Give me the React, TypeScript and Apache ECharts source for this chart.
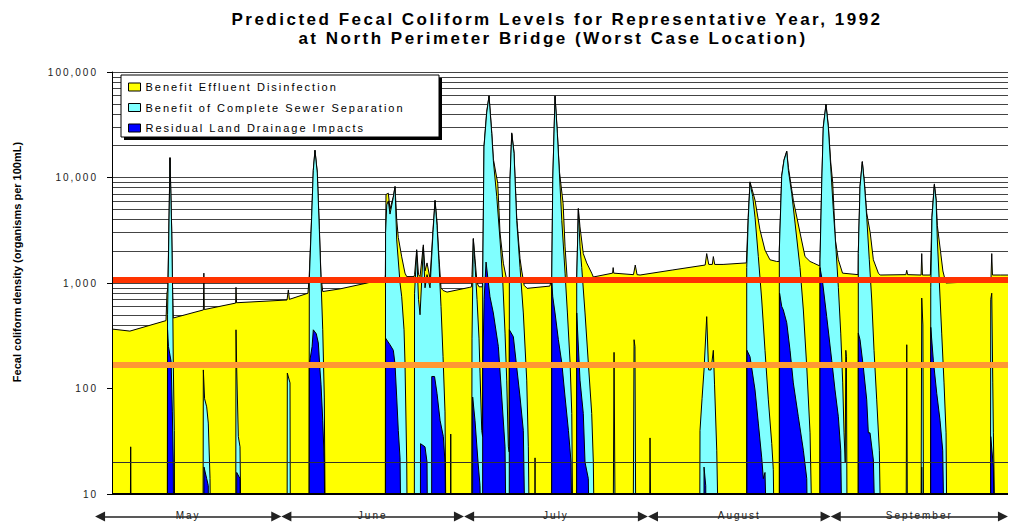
import React, { useEffect, useRef } from 'react';
import * as echarts from 'echarts';

// ---------- data ----------
const seriesNames = [
  'Benefit Effluent Disinfection',
  'Benefit of Complete Sewer Separation',
  'Residual Land Drainage Impacts',
];
const seriesColors = ['#FFFF00', '#80FFFF', '#0000FF'];

const titleLines = [
  'Predicted Fecal Coliform Levels for Representative Year, 1992',
  'at North Perimeter Bridge (Worst Case Location)',
];
const yAxisName = 'Fecal coliform density (organisms per 100mL)';

// months shown below the chart (x in days from the start of the record, May 4 = 0)
const monthNames = ['May', 'June', 'July', 'August', 'September'];
const monthEdges = [-2.9, 28.3, 58.9, 89.7, 120.3, 150];

// criterion lines (organisms per 100 mL)
const redCriterion = 1080;
const orangeCriterion = 169;

// minor log grid values
const minorGrid: number[] = [];
[10, 100, 1000, 10000].forEach((d) => {
  for (let k = 2; k <= 9; k++) minorGrid.push(k * d);
});

// [day, density] — upper envelope (total)
const yellowTotal: [number, number][] = [
  [0, 366], [3.0, 350], [9.04, 440], [9.2, 800], [9.35, 900], [9.5, 2800], [9.71, 15500], [9.85, 7200],
  [9.99, 3300], [10.16, 760], [10.26, 466], [15.3, 556], [15.38, 1240], [15.45, 560], [20.7, 645],
  [20.76, 910], [20.85, 650], [29.3, 690], [29.52, 860], [29.7, 700], [32.8, 800], [33.0, 1100],
  [33.43, 4400], [33.7, 11800], [33.98, 18200], [34.37, 11200], [34.71, 3400], [34.99, 1150], [35.28, 830],
  [38.2, 880], [42.7, 1000], [45.7, 1100], [45.76, 1200], [45.87, 6900], [46.26, 7100], [46.54, 5000],
  [47.1, 6600], [47.38, 8200], [47.66, 4000], [47.93, 2700], [48.5, 1770], [49.05, 1240], [49.34, 1150],
  [50.56, 1150], [50.65, 1200], [51.01, 2070], [51.31, 1200], [51.57, 1150], [52.12, 2300], [52.4, 1300],
  [52.74, 1550], [53.24, 1100], [53.74, 3200], [54.08, 6100], [54.41, 3800], [54.75, 1700], [55.08, 900],
  [55.42, 850], [56.09, 820], [59.9, 910], [60.19, 920], [60.27, 1200], [60.49, 2650], [60.77, 1700],
  [61.11, 1000], [61.44, 920], [62.0, 920], [62.06, 1100], [62.28, 20000], [62.73, 42000], [63.12, 59500],
  [63.57, 27000], [63.84, 15000], [64.58, 8800], [64.96, 3000], [65.52, 1540], [66.08, 1070], [66.5, 1070],
  [66.52, 1100], [66.63, 9600], [66.92, 26500], [67.3, 17500], [67.75, 4200], [68.31, 1700], [68.6, 1300],
  [69.0, 950], [69.5, 890], [73.3, 935], [73.62, 1100], [73.79, 9600], [74.17, 59500], [74.56, 26500],
  [74.9, 11500], [75.52, 5700], [75.85, 2200], [76.2, 1100], [76.5, 1050], [77.78, 1070], [77.8, 1100],
  [78.07, 5100], [78.35, 3400], [78.9, 1900], [79.47, 1550], [80.31, 1240], [80.58, 1140], [83.8, 1240],
  [83.9, 1400], [84.0, 1240], [87.3, 1200], [87.6, 1480], [87.9, 1200], [88.4, 1190], [93.9, 1330],
  [99.3, 1480], [99.56, 1900], [99.9, 1500], [100.5, 1500], [100.67, 1780], [100.9, 1500], [102.3, 1500],
  [106.2, 1550], [106.53, 4500], [106.81, 9100], [107.65, 6100], [108.47, 3200], [109.32, 2050],
  [110.15, 1660], [111.27, 1600], [111.7, 1600], [111.72, 2100], [112.12, 10500], [112.51, 14800],
  [112.96, 17800], [113.23, 12500], [114.06, 6100], [115.18, 3000], [116.02, 1780], [116.86, 1600],
  [117.4, 1550], [118.5, 1450], [118.53, 1700], [118.82, 9000], [119.08, 30500], [119.53, 49500],
  [119.92, 31000], [120.32, 14000], [120.65, 9000], [121.1, 2560], [121.6, 1660], [122.3, 1240],
  [124.9, 1200], [124.94, 1950], [125.23, 8300], [125.61, 14200], [125.95, 9200], [126.35, 4600],
  [126.93, 3000], [127.46, 1660], [128.3, 1240], [128.6, 1190], [132.9, 1200], [133.05, 1320], [133.2, 1200],
  [135.45, 1190], [135.56, 1900], [135.68, 1190], [137.0, 1190], [137.07, 1200], [137.28, 4400],
  [137.67, 8700], [137.96, 6300], [138.17, 3500], [138.7, 2000], [139.1, 1300], [139.6, 1000],
  [143.1, 1020], [147.15, 1100], [147.28, 1900], [147.4, 1190], [148.7, 1190], [150, 1190],
];

// [day, density] — after effluent disinfection (1 = below the axis)
const cyanAfterDisinfection: [number, number][] = [
  [0, 1], [3.0, 1], [3.13, 28], [3.25, 1],
  [9.24, 1], [9.3, 500], [9.5, 2500], [9.71, 15300], [9.85, 7000], [9.99, 3180], [10.16, 736], [10.26, 175], [10.43, 40], [10.51, 1],
  [15.22, 1], [15.29, 150], [15.5, 80], [15.85, 67], [16.12, 47], [16.41, 14], [16.57, 1],
  [20.7, 1], [20.76, 360], [20.88, 150], [21.15, 35], [21.43, 28], [21.71, 1],
  [29.3, 1], [29.35, 140], [29.8, 113], [29.88, 1],
  [32.98, 1], [33.03, 1070], [33.43, 4250], [33.7, 11700], [33.98, 18000], [34.37, 11000], [34.71, 3200], [34.99, 1070], [35.28, 360], [35.54, 83], [35.78, 1],
  [45.74, 1], [45.8, 3000], [46.0, 5500], [46.26, 6000], [46.54, 4500], [47.1, 6500], [47.38, 8200], [47.66, 2560], [48.22, 1000], [48.5, 740], [48.89, 360], [49.05, 175], [49.34, 20], [49.51, 1],
  [50.6, 1], [50.65, 800], [51.01, 2000], [51.31, 700], [51.57, 500], [52.12, 2200], [52.4, 900], [52.74, 1200], [53.24, 900], [53.74, 3000], [54.08, 6000], [54.41, 3500], [54.75, 1500], [55.08, 600], [55.42, 200], [55.75, 60], [56.0, 1],
  [56.65, 1], [56.71, 37], [56.78, 1],
  [60.19, 1], [60.27, 300], [60.49, 2600], [60.77, 1500], [61.11, 700], [61.44, 300], [61.61, 140], [61.9, 40], [62.04, 35],
  [62.06, 1070], [62.28, 19500], [62.73, 41000], [63.12, 59000], [63.57, 26000], [63.84, 14500], [64.41, 6600], [64.96, 2560], [65.41, 1070], [65.8, 335], [66.08, 120], [66.35, 28], [66.5, 25],
  [66.52, 1070], [66.63, 9500], [66.92, 26000], [67.3, 17000], [67.75, 3900], [68.31, 1400], [68.86, 520], [69.43, 120], [69.7, 28], [69.98, 1],
  [70.76, 1], [70.82, 22], [70.88, 1],
  [73.6, 1], [73.62, 1070], [73.79, 9500], [74.17, 59000], [74.56, 26000], [74.9, 11000], [75.3, 3900], [75.85, 1240], [76.24, 520], [76.69, 175], [76.97, 58], [77.24, 1],
  [77.78, 1], [77.8, 1070], [78.07, 5000], [78.35, 2200], [78.64, 1400], [79.19, 520], [79.74, 175], [80.31, 58], [80.58, 20], [80.86, 1],
  [83.85, 1], [84.05, 220], [84.3, 1],
  [87.2, 1], [87.4, 290], [87.55, 250], [87.73, 1],
  [89.95, 1], [90.07, 34], [90.3, 1],
  [98.36, 1], [98.44, 40], [98.78, 80], [99.11, 150], [99.56, 480], [99.87, 150], [100.28, 150], [100.67, 230], [100.87, 110], [101.24, 26], [101.71, 1],
  [106.24, 1], [106.26, 1400], [106.53, 4200], [106.81, 8900], [107.26, 6600], [107.65, 4200], [108.2, 1780], [108.77, 690], [109.32, 230], [109.88, 78], [110.45, 30], [110.71, 17], [110.99, 1],
  [111.7, 1], [111.72, 2050], [112.12, 10300], [112.51, 14600], [112.96, 17600], [113.23, 11700], [113.8, 7000], [114.35, 3700], [115.18, 1400], [115.74, 555], [116.31, 160], [116.86, 38], [117.41, 1],
  [118.51, 1], [118.53, 1650], [118.82, 8900], [119.08, 30000], [119.53, 49000], [119.92, 30000], [120.32, 12600], [120.76, 4900], [121.21, 2070], [121.6, 910], [122.0, 335], [122.33, 113], [122.55, 38], [122.75, 20], [122.85, 230], [122.95, 200], [123.1, 1],
  [124.92, 1], [124.94, 1900], [125.23, 8200], [125.61, 14000], [125.95, 8900], [126.35, 4200], [126.78, 1660], [127.19, 690], [127.57, 230], [128.02, 78], [128.46, 26], [128.86, 1],
  [132.9, 1], [133.05, 260], [133.2, 1],
  [135.4, 1], [135.56, 720], [135.75, 400], [135.9, 1],
  [137.05, 1], [137.07, 900], [137.28, 4200], [137.67, 8500], [137.96, 6100], [138.17, 2560], [138.51, 1000], [138.9, 335], [139.29, 113], [139.63, 38], [139.85, 1],
  [147.05, 1], [147.11, 700], [147.28, 800], [147.45, 113], [147.55, 38], [148.0, 1],
  [150, 1],
];

// [day, density] — residual land drainage
const blueResidual: [number, number][] = [
  [0, 1],
  [9.29, 1], [9.3, 360], [9.45, 250], [9.9, 180], [10.1, 60], [10.26, 20], [10.36, 1],
  [15.35, 1], [15.4, 18], [15.85, 14], [16.12, 12], [16.2, 1],
  [20.85, 1], [20.88, 16], [21.43, 14], [21.6, 1],
  [33.0, 1], [33.03, 170], [33.5, 250], [33.7, 360], [34.2, 330], [34.54, 270], [34.82, 150], [34.99, 110], [35.28, 50], [35.54, 20], [35.71, 1],
  [45.79, 1], [45.8, 300], [46.54, 260], [47.1, 230], [47.38, 170], [47.66, 83], [47.93, 40], [48.22, 22], [48.5, 1],
  [51.6, 1], [51.65, 30], [52.4, 28], [52.74, 20], [52.9, 1],
  [53.5, 1], [53.53, 130], [54.0, 130], [54.41, 90], [54.92, 50], [55.47, 35], [55.75, 20], [56.03, 1],
  [60.36, 1], [60.38, 83], [60.77, 50], [61.28, 20], [61.61, 12], [61.9, 1],
  [62.04, 1], [62.06, 150], [62.3, 700], [62.62, 1580], [63.28, 740], [63.84, 520], [64.68, 250], [65.25, 83], [65.8, 28], [66.08, 1],
  [66.5, 1], [66.52, 360], [67.19, 310], [67.75, 160], [68.31, 83], [68.86, 40], [69.31, 1],
  [73.6, 1], [73.62, 1000], [73.79, 740], [74.17, 520], [74.73, 290], [75.3, 175], [75.85, 83], [76.41, 40], [76.85, 20], [77.14, 1],
  [77.78, 1], [77.8, 520], [78.35, 120], [78.9, 58], [79.19, 20], [79.74, 14], [80.03, 1],
  [99.1, 1], [99.11, 18], [99.4, 12], [99.5, 1],
  [106.28, 1], [106.3, 230], [106.81, 200], [107.65, 97], [108.2, 47], [108.77, 22], [109.04, 14], [109.32, 16], [109.88, 1],
  [111.74, 1], [111.76, 800], [112.12, 600], [112.39, 555], [112.96, 420], [113.51, 230], [114.06, 113], [114.9, 54], [115.74, 26], [116.31, 14], [116.58, 1],
  [118.51, 1], [118.53, 1400], [118.98, 1000], [119.65, 480], [120.49, 185], [121.04, 97], [121.6, 54], [122.0, 26], [122.33, 1],
  [124.92, 1], [124.94, 335], [125.23, 290], [125.78, 160], [126.35, 78], [126.62, 38], [126.9, 38], [127.46, 21], [128.02, 1],
  [135.5, 1], [135.56, 18], [135.65, 1],
  [137.05, 1], [137.07, 380], [137.5, 185], [138.07, 90], [138.62, 50], [139.07, 26], [139.46, 1],
  [147.1, 1], [147.11, 35], [147.55, 18], [147.8, 1],
  [150, 1],
];

// ---------- chart ----------
const FONT = '"Liberation Sans", Arial, Helvetica, sans-serif';
const ARROW_INSET = 0.85; // days, so arrow tips meet at month boundaries

function fmtThousands(v: number): string {
  return String(Math.round(v)).replace(/\B(?=(\d{3})+(?!\d))/g, ',');
}

function applySpacing(root: HTMLElement) {
  root.querySelectorAll('text').forEach((t) => {
    const s = (t.textContent || '').trim();
    let ls = '';
    if (titleLines.includes(s)) ls = '2.5px';
    else if (seriesNames.includes(s)) ls = '2px';
    else if (monthNames.includes(s)) ls = '2px';
    else if (/^[\d,]+$/.test(s)) ls = '2px';
    if (ls) (t as SVGTextElement).style.letterSpacing = ls;
  });
}

export default function App() {
  const ref = useRef<HTMLDivElement>(null);

  useEffect(() => {
    if (!ref.current) return;
    const chart = echarts.init(ref.current, undefined, { renderer: 'svg' });

    const areaSeries = [yellowTotal, cyanAfterDisinfection, blueResidual].map((d, i) => ({
      name: seriesNames[i],
      type: 'line',
      data: d,
      xAxisIndex: 0,
      yAxisIndex: 0,
      symbol: 'none',
      showSymbol: false,
      z: 2 + i,
      silent: true,
      clip: true,
      lineStyle: { color: '#000', width: 1 },
      itemStyle: { color: seriesColors[i] },
      areaStyle: { color: seriesColors[i], opacity: 1, origin: 'start' },
      emphasis: { disabled: true },
    }));

    const option: any = {
      animation: false,
      grid: [
        { left: 112, right: 1, top: 72, bottom: 29 },
        { left: 95, right: 1, top: 507, height: 20 },
      ],
      xAxis: [
        {
          type: 'value', gridIndex: 0, min: 0, max: 150,
          axisLine: { show: false }, axisTick: { show: false }, axisLabel: { show: false }, splitLine: { show: false },
        },
        { type: 'value', gridIndex: 1, min: monthEdges[0], max: monthEdges[monthEdges.length - 1], show: false },
      ],
      yAxis: [
        {
          type: 'log', gridIndex: 0, logBase: 10, min: 10, max: 100000,
          axisLine: { show: true, lineStyle: { color: '#000', width: 1 } },
          axisTick: { show: true, length: 5, lineStyle: { color: '#000' } },
          axisLabel: {
            formatter: (v: number) => fmtThousands(v),
            fontFamily: FONT, fontSize: 10, color: '#222', margin: 14,
          },
          splitLine: { show: true, lineStyle: { color: '#444', width: 1 } },
        },
        { type: 'value', gridIndex: 1, min: 0, max: 1, show: false },
      ],
      legend: {
        orient: 'vertical', left: 128, top: 81, padding: 0, itemGap: 8.5,
        itemWidth: 12, itemHeight: 8, icon: 'rect', selectedMode: false, z: 60,
        textStyle: { fontFamily: FONT, fontSize: 11, color: '#000', lineHeight: 12 },
        data: seriesNames.map((n, i) => ({
          name: n,
          itemStyle: { color: seriesColors[i], borderColor: '#000', borderWidth: 1 },
        })),
      },
      graphic: [
        { type: 'text', x: 557, y: 19.8, z: 70, style: { text: titleLines[0], font: `bold 17px ${FONT}`, fill: '#000', textAlign: 'center', verticalAlign: 'middle', textVerticalAlign: 'middle' } },
        { type: 'text', x: 553, y: 38.4, z: 70, style: { text: titleLines[1], font: `bold 17px ${FONT}`, fill: '#000', textAlign: 'center', verticalAlign: 'middle', textVerticalAlign: 'middle' } },
        { type: 'text', x: 17, y: 262, rotation: Math.PI / 2, z: 70, style: { text: yAxisName, font: `bold 11px ${FONT}`, fill: '#000', textAlign: 'center', verticalAlign: 'middle', textVerticalAlign: 'middle' } },
        { type: 'rect', z: 50, shape: { x: 124, y: 78, width: 318, height: 62 }, style: { fill: '#000' } },
        { type: 'rect', z: 51, shape: { x: 121, y: 75, width: 318, height: 62 }, style: { fill: '#fff', stroke: '#000', lineWidth: 1 } },
      ],
      series: [
        // log grid (behind the areas)
        {
          name: 'grid', type: 'line', data: [], xAxisIndex: 0, yAxisIndex: 0, z: 1, silent: true,
          markLine: {
            silent: true, symbol: 'none', z: 1, animation: false,
            label: { show: false }, emphasis: { disabled: true },
            lineStyle: { color: '#444', width: 1, type: 'solid' },
            data: minorGrid.map((v) => ({ yAxis: v })),
          },
        },
        ...areaSeries,
        // overlay lines
        {
          name: 'overlay', type: 'line', data: [], xAxisIndex: 0, yAxisIndex: 0, z: 10, silent: true,
          markLine: {
            silent: true, symbol: 'none', z: 10, animation: false,
            label: { show: false }, emphasis: { disabled: true },
            data: [
              { yAxis: 20, lineStyle: { color: '#333', width: 1, type: 'solid' } },
              { yAxis: orangeCriterion, lineStyle: { color: '#FF9933', width: 6, type: 'solid' } },
              { yAxis: redCriterion, lineStyle: { color: '#FF3300', width: 6, type: 'solid' } },
              { yAxis: 10, lineStyle: { color: '#000', width: 2, type: 'solid' } },
              { xAxis: 0, lineStyle: { color: '#000', width: 1, type: 'solid' } },
            ],
          },
        },
        // month arrows
        {
          name: 'months', type: 'line', data: [], xAxisIndex: 1, yAxisIndex: 1, z: 10, silent: true,
          markLine: {
            silent: true, animation: false, symbol: ['triangle', 'triangle'], symbolSize: [10, 10],
            emphasis: { disabled: true },
            lineStyle: { color: '#222', width: 1.5, type: 'solid' },
            label: { show: true, position: 'middle', formatter: '{b}', fontFamily: FONT, fontSize: 10, color: '#222', distance: -4 },
            data: monthNames.map((m, i) => [
              { name: m, coord: [monthEdges[i] + ARROW_INSET, 0.4] },
              { coord: [monthEdges[i + 1] - ARROW_INSET, 0.4] },
            ]),
          },
        },
      ],
    };

    chart.setOption(option);
    const el = ref.current;
    applySpacing(el);
    chart.on('finished', () => applySpacing(el));

    return () => {
      chart.dispose();
    };
  }, []);

  return (
    <div
      ref={ref}
      style={{ position: 'fixed', left: 0, top: 0, width: 1009, height: 523, background: '#fff' }}
    />
  );
}
